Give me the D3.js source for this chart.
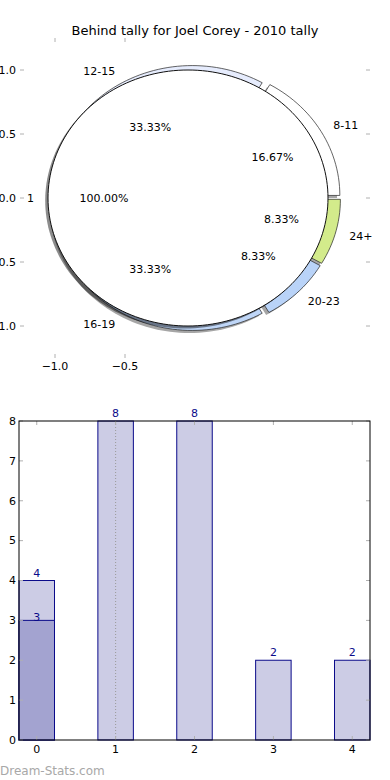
<!DOCTYPE html>
<html>
<head>
<meta charset="utf-8">
<script src="https://cdn.jsdelivr.net/npm/d3@7"></script>
<style>
  body { margin: 0; background: #fff; }
  svg { display: block; font-family: "DejaVu Sans", sans-serif; }
</style>
</head>
<body>
<div id="chart"></div>
<script>
// pie data (outer ring, counterclockwise from 180 deg)
var ringLabels = ["16-19", "20-23", "24+", "8-11", "12-15"];
var ringValues = [4, 1, 1, 2, 4];
var ringColors = ["#bfd6f7", "#b9d3f8", "#d3eb8b", "#ffffff", "#e6ecfd"];
var innerLabels = ["1"];
var innerValues = [1];
var pieYTicks = [1.0, 0.5, 0.0, -0.5, -1.0];
var pieXTicks = [-1.0, -0.5];

// bar data
var barCats = [0, 1, 2, 3, 4];
var barValues = [4, 8, 8, 2, 2];
var overlayCats = [0];
var overlayValues = [3];
var markerCat = 1;
var barYTicks = [0, 1, 2, 3, 4, 5, 6, 7, 8];

var W = 390, H = 780;
var svg = d3.select("#chart").append("svg").attr("width", W).attr("height", H);
var fmtMinus = function(s) { return s.replace("-", "\u2212"); };

svg.append("text").attr("x", 195).attr("y", 35).attr("text-anchor", "middle")
   .attr("font-size", 13).attr("fill", "#000")
   .text("Behind tally for Joel Corey - 2010 tally");

// ---------- pie ----------
var px = d3.scaleLinear().domain([-1.25, 1.25]).range([20, 370]);
var py = d3.scaleLinear().domain([-1.25, 1.25]).range([358, 38]);
var line = d3.line().x(function(d) { return px(d[0]); }).y(function(d) { return py(d[1]); });
var deg = Math.PI / 180;

function wedgePts(cx, cy, r, a0, a1) {
  var pts = [];
  if (a1 - a0 < 359.9) pts.push([cx, cy]);
  var n = Math.max(8, Math.ceil((a1 - a0) / 2));
  for (var i = 0; i <= n; i++) {
    var a = (a0 + (a1 - a0) * i / n) * deg;
    pts.push([cx + r * Math.cos(a), cy + r * Math.sin(a)]);
  }
  return pts;
}

// d3.pie gives the fractions; convert to ccw math angles from start
function pieAngles(values, start) {
  var arcs = d3.pie().sort(null).startAngle(0).endAngle(2 * Math.PI)(values);
  return arcs.map(function(a) {
    return { a0: start + a.startAngle / deg, a1: start + a.endAngle / deg, frac: (a.endAngle - a.startAngle) / (2 * Math.PI) };
  });
}

var ring = pieAngles(ringValues, 180);
var ringExplode = 0.04;
ring.forEach(function(d) {
  var mid = (d.a0 + d.a1) / 2 * deg;
  d.cx = ringExplode * Math.cos(mid);
  d.cy = ringExplode * Math.sin(mid);
  d.mid = mid;
});
var inner = pieAngles(innerValues, 0);
inner.forEach(function(d) {
  d.cx = -0.05; d.cy = 0; d.mid = Math.PI;
});

var pieG = svg.append("g");
var sh = 0.02;
// ring shadows + wedges
pieG.selectAll(".rshadow").data(ring).enter().append("path")
  .attr("d", function(d) { return line(wedgePts(d.cx - sh, d.cy - sh, 1, d.a0, d.a1)) + "Z"; })
  .attr("fill", "#000").attr("fill-opacity", 0.35);
pieG.selectAll(".rwedge").data(ring).enter().append("path")
  .attr("d", function(d) { return line(wedgePts(d.cx, d.cy, 1, d.a0, d.a1)) + "Z"; })
  .attr("fill", function(d, i) { return ringColors[i]; })
  .attr("stroke", "#222").attr("stroke-width", 0.7);
// inner pie
pieG.selectAll(".ishadow").data(inner).enter().append("path")
  .attr("d", function(d) { return line(wedgePts(d.cx - sh, d.cy - sh, 1, d.a0, d.a1)) + "Z"; })
  .attr("fill", "#000").attr("fill-opacity", 0.45);
pieG.selectAll(".iwedge").data(inner).enter().append("path")
  .attr("d", function(d) { return line(wedgePts(d.cx, d.cy, 1, d.a0, d.a1)) + "Z"; })
  .attr("fill", "#fff").attr("stroke", "#111").attr("stroke-width", 1);

function addLabels(data, labels) {
  data.forEach(function(d, i) {
    var lx = d.cx + 1.1 * Math.cos(d.mid), ly = d.cy + 1.1 * Math.sin(d.mid);
    pieG.append("text").attr("x", px(lx)).attr("y", py(ly)).attr("dy", "0.35em")
      .attr("text-anchor", lx < 0 ? "end" : "start").attr("font-size", 11).text(labels[i]);
    var tx = d.cx + 0.6 * Math.cos(d.mid), ty = d.cy + 0.6 * Math.sin(d.mid);
    pieG.append("text").attr("x", px(tx)).attr("y", py(ty)).attr("dy", "0.35em")
      .attr("text-anchor", "middle").attr("font-size", 11).text(d3.format(".2f")(d.frac * 100) + "%");
  });
}
addLabels(ring, ringLabels);
addLabels(inner, innerLabels);

// pie ticks (no frame)
var tickCol = "#b0b0b0";
pieYTicks.forEach(function(t) {
  svg.append("line").attr("x1", 20).attr("x2", 24).attr("y1", py(t)).attr("y2", py(t)).attr("stroke", tickCol);
  svg.append("line").attr("x1", 366).attr("x2", 370).attr("y1", py(t)).attr("y2", py(t)).attr("stroke", tickCol);
  svg.append("text").attr("x", 16).attr("y", py(t)).attr("dy", "0.35em").attr("text-anchor", "end")
    .attr("font-size", 11).text(fmtMinus(d3.format(".1f")(t)));
});
pieXTicks.forEach(function(t) {
  svg.append("line").attr("x1", px(t)).attr("x2", px(t)).attr("y1", 38).attr("y2", 42).attr("stroke", tickCol);
  svg.append("line").attr("x1", px(t)).attr("x2", px(t)).attr("y1", 354).attr("y2", 358).attr("stroke", tickCol);
  svg.append("text").attr("x", px(t)).attr("y", 370).attr("text-anchor", "middle")
    .attr("font-size", 11).text(fmtMinus(d3.format(".1f")(t)));
});

// ---------- bars ----------
var bw = 0.45;
var bx = d3.scaleLinear().domain([-0.225, 4.225]).range([19, 370]);
var by = d3.scaleLinear().domain([0, 8]).range([740, 421]);
var barG = svg.append("g");

barG.selectAll(".bar").data(barCats).enter().append("rect")
  .attr("x", function(d) { return bx(d - bw / 2); })
  .attr("width", function(d) { return bx(d + bw / 2) - bx(d - bw / 2); })
  .attr("y", function(d, i) { return by(barValues[i]); })
  .attr("height", function(d, i) { return by(0) - by(barValues[i]); })
  .attr("fill", "#cccce5").attr("stroke", "#0b0b8a").attr("stroke-width", 1);
barG.selectAll(".over").data(overlayCats).enter().append("rect")
  .attr("x", function(d) { return bx(d - bw / 2); })
  .attr("width", function(d) { return bx(d + bw / 2) - bx(d - bw / 2); })
  .attr("y", function(d, i) { return by(overlayValues[i]); })
  .attr("height", function(d, i) { return by(0) - by(overlayValues[i]); })
  .attr("fill", "#a3a3d0").attr("stroke", "#0b0b8a").attr("stroke-width", 1);

barG.selectAll(".blab").data(barCats).enter().append("text")
  .attr("x", function(d) { return bx(d); })
  .attr("y", function(d, i) { return by(barValues[i]) - 4; })
  .attr("text-anchor", "middle").attr("font-size", 11).attr("fill", "#0b0b8a")
  .text(function(d, i) { return barValues[i]; });
barG.selectAll(".olab").data(overlayCats).enter().append("text")
  .attr("x", function(d) { return bx(d); })
  .attr("y", function(d, i) { return by(overlayValues[i]) + 1; })
  .attr("text-anchor", "middle").attr("font-size", 11).attr("fill", "#0b0b8a")
  .text(function(d, i) { return overlayValues[i]; });

// dotted marker line
barG.append("line").attr("x1", bx(markerCat)).attr("x2", bx(markerCat))
  .attr("y1", by(8)).attr("y2", by(0))
  .attr("stroke", "#999").attr("stroke-width", 1).attr("stroke-dasharray", "1,2");

// ticks
barYTicks.forEach(function(t) {
  barG.append("line").attr("x1", 19).attr("x2", 23).attr("y1", by(t)).attr("y2", by(t)).attr("stroke", tickCol);
  barG.append("line").attr("x1", 366).attr("x2", 370).attr("y1", by(t)).attr("y2", by(t)).attr("stroke", tickCol);
  barG.append("text").attr("x", 16).attr("y", by(t)).attr("dy", "0.35em").attr("text-anchor", "end")
    .attr("font-size", 11).text(t);
});
barCats.forEach(function(t) {
  barG.append("line").attr("x1", bx(t)).attr("x2", bx(t)).attr("y1", 421).attr("y2", 425).attr("stroke", tickCol);
  barG.append("line").attr("x1", bx(t)).attr("x2", bx(t)).attr("y1", 736).attr("y2", 740).attr("stroke", tickCol);
  barG.append("text").attr("x", bx(t)).attr("y", 753).attr("text-anchor", "middle")
    .attr("font-size", 11).text(t);
});

// frame
barG.append("rect").attr("x", 19).attr("y", 421).attr("width", 351).attr("height", 319)
  .attr("fill", "none").attr("stroke", "#000").attr("stroke-width", 1);

svg.append("text").attr("x", 0).attr("y", 775).attr("font-size", 12)
  .attr("fill", "#a8a8a8").text("Dream-Stats.com");
</script>
</body>
</html>
